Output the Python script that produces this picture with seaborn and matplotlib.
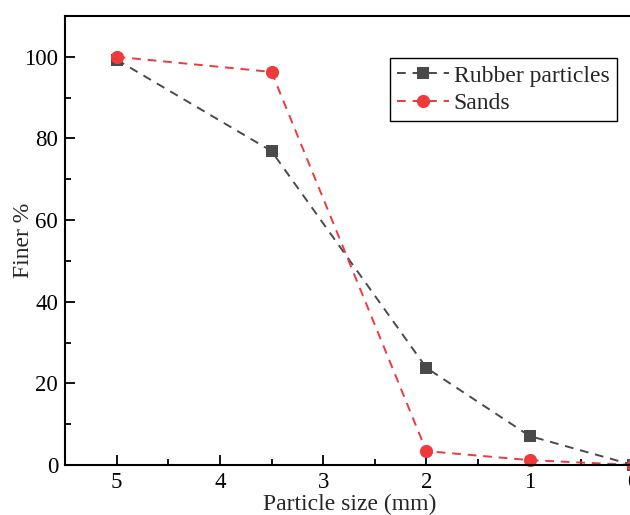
import numpy as np
import pandas as pd
import matplotlib
matplotlib.use("Agg")
import matplotlib.pyplot as plt
from matplotlib.ticker import MultipleLocator
import seaborn as sns

sns.set_theme(style="ticks")
plt.rcParams['font.family'] = ['Liberation Serif', 'DejaVu Serif']

# data
sizes = [5, 3.5, 2, 1, 0]
rubber = [99.3, 76.9, 23.8, 7.1, 0.0]
sands = [100.0, 96.3, 3.4, 1.2, 0.0]

df = pd.DataFrame({
    "size": sizes * 2,
    "finer": rubber + sands,
    "material": ["Rubber particles"] * len(sizes) + ["Sands"] * len(sizes),
})

fig = plt.figure(figsize=(6.3, 5.15), dpi=100)
ax = fig.add_axes([65 / 630, 1 - 465 / 515, 570 / 630, 449 / 515])

colors = {"Rubber particles": "#4a4a4a", "Sands": "#ee3a3a"}
markers = {"Rubber particles": "s", "Sands": "o"}
msizes = {"Rubber particles": 8, "Sands": 9.5}

for name, grp in df.groupby("material", sort=False):
    sns.lineplot(data=grp, x="size", y="finer", ax=ax, color=colors[name],
                 marker=markers[name], markersize=msizes[name],
                 markeredgewidth=0, linewidth=1.4, label=name,
                 sort=False, estimator=None, clip_on=False)
for line in ax.get_lines():
    line.set_linestyle((0, (4.5, 3.5)))

ax.set_xlim(5.5, -0.02)
ax.set_ylim(0, 110)
ax.xaxis.set_major_locator(MultipleLocator(1))
ax.xaxis.set_minor_locator(MultipleLocator(0.5))
ax.yaxis.set_major_locator(MultipleLocator(20))
ax.yaxis.set_minor_locator(MultipleLocator(10))
ax.tick_params(which="both", direction="in", top=False, right=False,
               labelsize=16.5, colors="black", pad=5)
ax.tick_params(which="major", length=7, width=1.3)
ax.tick_params(which="minor", length=4, width=1.3)
for s in ax.spines.values():
    s.set_linewidth(1.5)
    s.set_color("black")

ax.set_xlabel("Particle size (mm)", fontsize=17, labelpad=1)
ax.set_ylabel("Finer %", fontsize=17)
ax.yaxis.set_label_coords(-0.055, 0.5)

leg = ax.legend(loc="upper left", bbox_to_anchor=(390 / 630, 1 - 58 / 515),
                bbox_transform=fig.transFigure, fontsize=17, frameon=True,
                fancybox=False, edgecolor="black", handlelength=2.2,
                handletextpad=0.2, borderpad=0.3, labelspacing=0.25,
                borderaxespad=0)
leg.get_frame().set_linewidth(1.0)
leg.get_frame().set_alpha(1)

fig.savefig("out.png", dpi=100)
